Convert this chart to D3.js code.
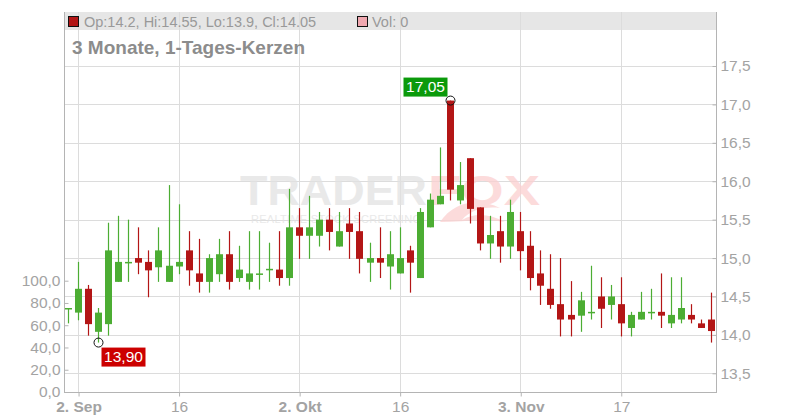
<!DOCTYPE html>
<html><head><meta charset="utf-8">
<script src="https://cdn.jsdelivr.net/npm/d3@7"></script>
<style>body{margin:0;background:#fff;} svg{display:block;font-family:"Liberation Sans",Arial,sans-serif;}</style>
</head><body><svg id="c" width="800" height="420"></svg>
<script>
const dates = [
 "2025-09-01","2025-09-02","2025-09-03","2025-09-04","2025-09-05",
 "2025-09-08","2025-09-09","2025-09-10","2025-09-11","2025-09-12",
 "2025-09-15","2025-09-16","2025-09-17","2025-09-18","2025-09-19",
 "2025-09-22","2025-09-23","2025-09-24","2025-09-25","2025-09-26",
 "2025-09-29","2025-09-30","2025-10-01","2025-10-02","2025-10-03",
 "2025-10-06","2025-10-07","2025-10-08","2025-10-09","2025-10-10",
 "2025-10-13","2025-10-14","2025-10-15","2025-10-16","2025-10-17",
 "2025-10-20","2025-10-21","2025-10-22","2025-10-23","2025-10-24",
 "2025-10-27","2025-10-28","2025-10-29","2025-10-30","2025-10-31",
 "2025-11-03","2025-11-04","2025-11-05","2025-11-06","2025-11-07",
 "2025-11-10","2025-11-11","2025-11-12","2025-11-13","2025-11-14",
 "2025-11-17","2025-11-18","2025-11-19","2025-11-20","2025-11-21",
 "2025-11-24","2025-11-25","2025-11-26","2025-11-27","2025-11-28"];
const open = [
 14.34,14.29,14.60,14.04,14.14, 14.69,14.94,15.00,14.95,14.88,
 14.69,14.89,15.10,14.80,14.69, 14.79,15.05,14.74,14.69,14.79,
 14.85,14.85,14.74,15.40,15.29, 15.29,15.50,15.15,15.45,15.35,
 14.94,15.00,14.89,14.80,15.10, 14.74,15.40,15.70,17.05,15.75,
 16.30,15.66,15.19,15.35,15.15, 15.35,15.16,14.80,14.60,14.40,
 14.26,14.25,14.29,14.50,14.39, 14.40,14.09,14.20,14.29,14.30,
 14.15,14.20,14.26,14.15,14.20];
const high = [
 14.35,14.95,14.65,14.35,15.46, 15.55,15.50,15.40,15.10,15.40,
 15.95,15.70,15.35,15.25,15.05, 15.25,15.35,15.16,15.35,15.35,
 15.20,15.35,15.90,15.65,15.81, 15.60,15.65,15.60,15.65,15.60,
 15.20,15.40,15.35,15.40,15.16, 15.65,15.84,16.44,17.05,16.25,
 16.30,15.66,15.55,15.55,15.76, 15.60,15.35,15.10,15.05,15.00,
 14.70,14.56,14.90,14.75,14.65, 14.75,14.30,14.56,14.60,14.80,
 14.75,14.75,14.40,14.20,14.55];
const low = [
 14.15,14.19,13.99,13.90,13.99, 14.69,14.69,14.79,14.49,14.69,
 14.69,14.79,14.64,14.55,14.55, 14.69,14.59,14.69,14.59,14.59,
 14.69,14.64,14.64,14.99,14.99, 15.15,15.10,15.15,14.99,14.80,
 14.69,14.74,14.59,14.80,14.55, 14.74,15.40,15.70,15.75,15.70,
 15.45,15.10,14.99,14.94,14.99, 14.84,14.58,14.39,14.34,13.98,
 13.98,14.04,14.20,14.09,14.20, 13.98,13.98,14.20,14.20,14.09,
 14.09,14.15,14.15,14.09,13.90];
const close = [
 14.35,14.60,14.14,14.29,15.10, 14.95,14.95,14.94,14.84,15.10,
 14.90,14.95,14.84,14.69,15.00, 15.05,14.69,14.85,14.80,14.80,
 14.86,14.74,15.40,15.29,15.40, 15.50,15.34,15.35,15.34,14.99,
 15.00,14.94,15.05,15.00,14.94, 15.60,15.76,15.81,15.89,15.95,
 15.64,15.19,15.30,15.15,15.60, 15.09,14.74,14.64,14.39,14.20,
 14.20,14.45,14.30,14.34,14.50, 14.15,14.26,14.30,14.30,14.25,
 14.26,14.35,14.20,14.09,14.05];
const volume = new Array(65).fill(0);
const priceTicks = [13.5,14,14.5,15,15.5,16,16.5,17,17.5];
const volTicks = [0,20,40,60,80,100];
const xTickDates = ["2025-09-02","2025-09-16","2025-10-02","2025-10-16","2025-11-03","2025-11-17"];
const xTickLabels = ["2. Sep","16","2. Okt","16","3. Nov","17"];
const xTickBold = [true,false,true,false,true,false];
const titleText = "3 Monate, 1-Tages-Kerzen";
const legendText = "Op:14.2, Hi:14.55, Lo:13.9, Cl:14.05";
const volLegendText = "Vol: 0";
const hiLabel = "17,05", loLabel = "13,90";

const RED = "#b31616", GREEN = "#4cad33", GRID = "#dcdcdc", AXIS = "#b4b4b4", TXT = "#a3a3a3";
const L = 64, R = 716, T = 12, B = 392;

const svg = d3.select("#c");
const x = d3.scalePoint().domain(dates).range([68, 711.2]);
const y = d3.scaleLinear().domain([13.5, 17.5]).range([373.3, 66]);
const yVol = d3.scaleLinear().domain([0, 100]).range([B, 280.7]);
const fmt = d => d.toFixed(1).replace('.', ',');

// legend band
svg.append("rect").attr("x", L).attr("y", T).attr("width", R - L).attr("height", 18).attr("fill", "#e6e6e6");

// grid
svg.append("g").selectAll("line").data(priceTicks).join("line")
  .attr("x1", L).attr("x2", R).attr("y1", d => Math.round(y(d)) + 0.5).attr("y2", d => Math.round(y(d)) + 0.5)
  .attr("stroke", GRID).attr("stroke-width", 1);
svg.append("g").selectAll("line").data(xTickDates).join("line")
  .attr("x1", d => Math.round(x(d)) + 0.5).attr("x2", d => Math.round(x(d)) + 0.5).attr("y1", T).attr("y2", B)
  .attr("stroke", GRID).attr("stroke-width", 1);

// watermark
const wm = svg.append("g").attr("opacity", 0.75);
wm.append("text").attr("x", 240).attr("y", 205).attr("font-size", 42).attr("font-weight", "bold")
  .attr("textLength", 187).attr("lengthAdjust", "spacingAndGlyphs").attr("fill", "#e2e2e2").text("TRADER");
wm.append("text").attr("x", 428).attr("y", 205).attr("font-size", 42).attr("font-weight", "bold")
  .attr("textLength", 112).attr("lengthAdjust", "spacingAndGlyphs").attr("fill", "#fbd0d0").text("FOX");
wm.append("text").attr("x", 251).attr("y", 223).attr("font-size", 11)
  .attr("textLength", 170).attr("lengthAdjust", "spacing").attr("fill", "#e2e2e2").text("REALTIME STOCK SCREENING");
wm.append("path").attr("d", "M440,222 C455,200 480,198 500,208 C485,206 470,210 462,220 C475,212 490,214 505,222 C485,218 460,222 440,222 Z")
  .attr("fill", "#fbd0d0");

// axes lines
svg.append("line").attr("x1", L + 0.5).attr("x2", L + 0.5).attr("y1", T).attr("y2", B).attr("stroke", AXIS);
svg.append("line").attr("x1", R + 0.5).attr("x2", R + 0.5).attr("y1", T).attr("y2", B).attr("stroke", AXIS);
svg.append("line").attr("x1", L).attr("x2", R + 1).attr("y1", B + 0.5).attr("y2", B + 0.5).attr("stroke", AXIS);

// right price axis
const ra = svg.append("g").attr("transform", `translate(${R + 0.5},0)`)
  .call(d3.axisRight(y).tickValues(priceTicks).tickFormat(fmt).tickSize(-4).tickSizeOuter(0).tickPadding(4));
ra.select(".domain").remove();
ra.selectAll("line").attr("stroke", AXIS);
ra.selectAll("text").attr("fill", TXT).attr("font-size", 15.5).attr("font-family", "Liberation Sans, Arial, sans-serif");

// left volume axis
const la = svg.append("g").attr("transform", `translate(${L + 0.5},0)`)
  .call(d3.axisLeft(yVol).tickValues(volTicks).tickFormat(fmt).tickSize(-4).tickSizeOuter(0).tickPadding(4));
la.select(".domain").remove();
la.selectAll("line").attr("stroke", AXIS);
la.selectAll("text").attr("fill", TXT).attr("font-size", 15.5).attr("font-family", "Liberation Sans, Arial, sans-serif");

// bottom axis
const ba = svg.append("g").attr("transform", `translate(0.5,${B + 0.5})`)
  .call(d3.axisBottom(x).tickValues(xTickDates).tickFormat((d, i) => xTickLabels[i]).tickSize(4).tickSizeOuter(0).tickPadding(4));
ba.select(".domain").remove();
ba.selectAll("line").attr("stroke", AXIS);
ba.selectAll("text").attr("fill", TXT).attr("font-size", 15.5).attr("font-family", "Liberation Sans, Arial, sans-serif")
  .attr("font-weight", (d, i) => xTickBold[i] ? "bold" : "normal");

// volume bars (all zero)
svg.append("g").selectAll("rect").data(dates).join("rect")
  .attr("x", d => x(d) - 3.5).attr("width", 7)
  .attr("y", (d, i) => yVol(volume[i])).attr("height", (d, i) => B - yVol(volume[i]))
  .attr("fill", "#f0a8b0");

// candles
const idx = d3.range(dates.length);
const cg = svg.append("g");
cg.selectAll("line").data(idx).join("line")
  .attr("x1", i => Math.round(x(dates[i])) + 0.5).attr("x2", i => Math.round(x(dates[i])) + 0.5)
  .attr("y1", i => y(high[i])).attr("y2", i => y(low[i]))
  .attr("stroke", i => close[i] >= open[i] ? GREEN : RED).attr("stroke-width", 1.2);
cg.selectAll("rect").data(idx).join("rect")
  .attr("x", i => Math.round(x(dates[i])) - 3).attr("width", 7)
  .attr("y", i => Math.min(y(open[i]), y(close[i])))
  .attr("height", i => Math.max(1.5, Math.abs(y(open[i]) - y(close[i]))))
  .attr("fill", i => close[i] >= open[i] ? GREEN : RED);

// hi / lo markers
const hiI = d3.maxIndex(high), loI = d3.minIndex(low);
const hx = Math.round(x(dates[hiI])) + 0.5, hy = y(high[hiI]);
const lx = Math.round(x(dates[loI])) + 0.5, ly = y(low[loI]);
svg.append("circle").attr("cx", hx).attr("cy", hy).attr("r", 4.5).attr("fill", "none").attr("stroke", "#111").attr("stroke-width", 1);
svg.append("circle").attr("cx", lx).attr("cy", ly).attr("r", 4.5).attr("fill", "none").attr("stroke", "#111").attr("stroke-width", 1);
svg.append("rect").attr("x", hx - 47).attr("y", hy - 23).attr("width", 44).attr("height", 19).attr("fill", "#0b9a0b");
svg.append("text").attr("x", hx - 25).attr("y", hy - 8.5).attr("text-anchor", "middle").attr("font-size", 15.5).attr("fill", "#fff").text(hiLabel);
svg.append("rect").attr("x", lx + 3).attr("y", ly + 5).attr("width", 44).attr("height", 19).attr("fill", "#cc0000");
svg.append("text").attr("x", lx + 25).attr("y", ly + 19.5).attr("text-anchor", "middle").attr("font-size", 15.5).attr("fill", "#fff").text(loLabel);

// legend
svg.append("rect").attr("x", 68.5).attr("y", 16.5).attr("width", 10).attr("height", 10).attr("fill", RED).attr("stroke", "#111");
svg.append("text").attr("x", 84).attr("y", 26.5).attr("font-size", 14.5).attr("fill", "#999").text(legendText);
svg.append("rect").attr("x", 357.5).attr("y", 16.5).attr("width", 10).attr("height", 10).attr("fill", "#f0a8b0").attr("stroke", "#111");
svg.append("text").attr("x", 372).attr("y", 26.5).attr("font-size", 14.5).attr("fill", "#999").text(volLegendText);

// title
svg.append("text").attr("x", 72).attr("y", 54).attr("font-size", 19).attr("font-weight", "bold").attr("fill", "#8c8c8c").text(titleText);
</script></body></html>
